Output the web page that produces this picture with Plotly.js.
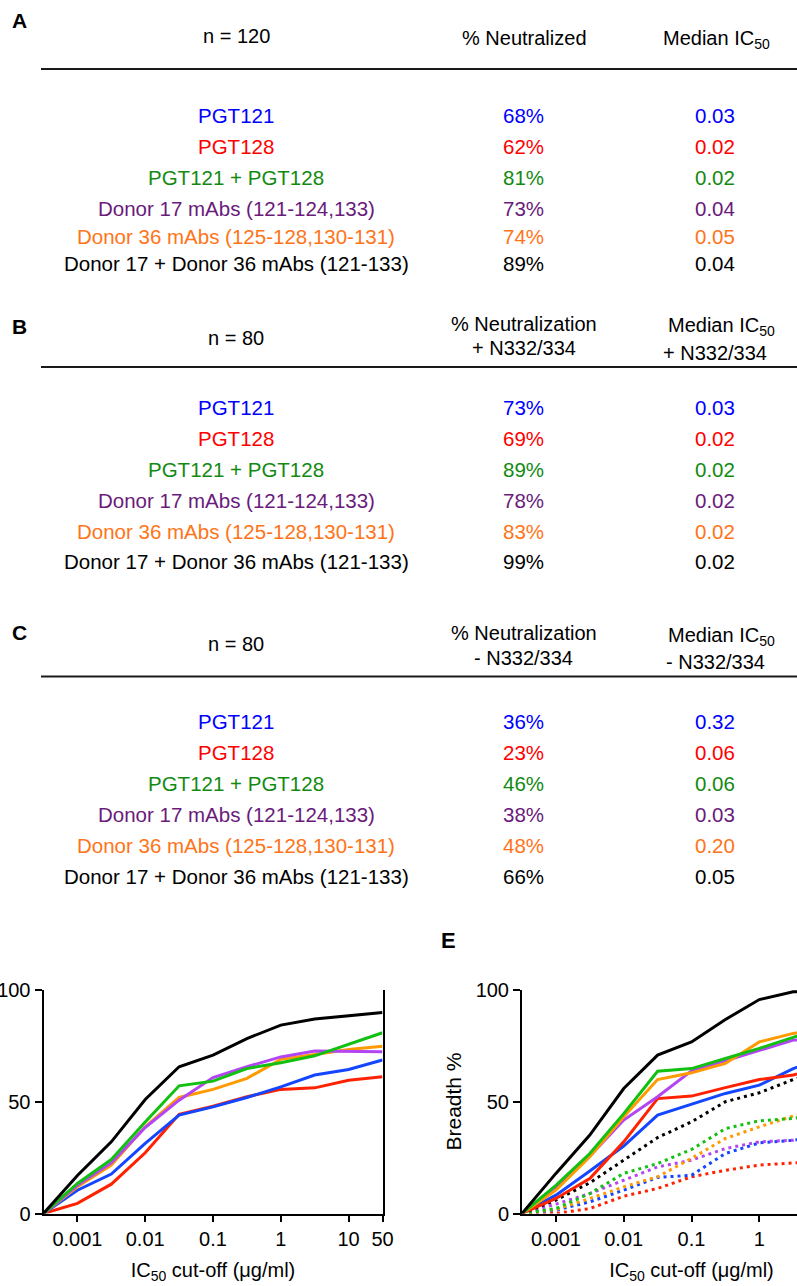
<!DOCTYPE html>
<html>
<head>
<meta charset="utf-8">
<script src="https://cdn.plot.ly/plotly-3.0.1.min.js"></script>
<style>
  html, body { margin: 0; padding: 0; overflow: hidden; background: #fff; }
  #chart { width: 870px; height: 1286px; }
</style>
</head>
<body>
<div id="chart"></div>
<script>
// ---------------- DATA ----------------
// Table rows (shared by panels A, B, C)
const rowLabels = [
  "PGT121",
  "PGT128",
  "PGT121 + PGT128",
  "Donor 17 mAbs (121-124,133)",
  "Donor 36 mAbs (125-128,130-131)",
  "Donor 17 + Donor 36 mAbs (121-133)"
];
// Panel A: n = 120
const aNeutralized = ["68%", "62%", "81%", "73%", "74%", "89%"];
const aMedianIC50  = ["0.03", "0.02", "0.02", "0.04", "0.05", "0.04"];
// Panel B: n = 80, + N332/334
const bNeutralized = ["73%", "69%", "89%", "78%", "83%", "99%"];
const bMedianIC50  = ["0.03", "0.02", "0.02", "0.02", "0.02", "0.02"];
// Panel C: n = 80, - N332/334
const cNeutralized = ["36%", "23%", "46%", "38%", "48%", "66%"];
const cMedianIC50  = ["0.32", "0.06", "0.06", "0.03", "0.20", "0.05"];

// Breadth curves: IC50 cut-off (ug/ml)
const cutoffs = [0.000316, 0.001, 0.00316, 0.01, 0.0316, 0.1, 0.316, 1, 3.16, 10, 31.6];
const tickValues = [0.001, 0.01, 0.1, 1, 10, 31.6];
const tickLabels = ["0.001", "0.01", "0.1", "1", "10", "50"];

// Panel D (n = 120), breadth %
const dPGT121   = [0, 10.4, 17.6, 31.3, 43.9, 47.6, 51.8, 56.5, 61.8, 64.3, 68.5];
const dPGT128   = [0, 4.5, 13.1, 27.1, 44.3, 47.9, 52.1, 55.4, 56.1, 59.5, 61.0];
const dCombo    = [0, 13.4, 24.1, 40.9, 57.0, 59.1, 64.7, 67.3, 70.4, 75.6, 80.7];
const dDonor17  = [0, 12.6, 22.6, 38.4, 50.6, 60.7, 65.5, 69.9, 72.5, 72.2, 72.2];
const dDonor36  = [0, 11.9, 21.6, 38.7, 51.8, 55.4, 60.3, 68.8, 71.0, 73.2, 74.7];
const dDonorAll = [0, 17.0, 32.0, 50.9, 65.5, 70.7, 78.1, 84.1, 86.8, 88.2, 89.7];

// Panel E solid (+ N332/334)
const ePlusPGT121   = [0, 8.2, 19.0, 30.1, 43.9, 48.8, 53.6, 57.3, 64.7, 70.0, 73.0];
const ePlusPGT128   = [0, 6.7, 15.6, 32.0, 51.3, 52.4, 56.2, 59.8, 61.8, 66.0, 69.0];
const ePlusCombo    = [0, 12.6, 26.8, 44.6, 63.5, 64.7, 69.2, 73.7, 78.6, 84.0, 89.0];
const ePlusDonor17  = [0, 11.9, 25.6, 41.7, 52.1, 63.7, 68.2, 72.9, 77.4, 78.0, 78.0];
const ePlusDonor36  = [0, 10.4, 25.3, 43.2, 59.8, 62.8, 67.0, 76.6, 80.4, 83.0, 83.0];
const ePlusDonorAll = [0, 17.9, 35.0, 55.8, 70.7, 76.6, 86.6, 95.5, 99.0, 99.0, 99.0];
// Panel E dotted (- N332/334)
const eMinusPGT121   = [0, 1.5, 5.2, 10.4, 16.1, 17.1, 26.8, 31.5, 32.7, 35.0, 36.0];
const eMinusPGT128   = [0, 0, 2.2, 7.7, 11.2, 16.4, 19.3, 21.6, 22.6, 23.0, 23.0];
const eMinusCombo    = [0, 2.2, 8.9, 17.9, 22.3, 28.6, 37.9, 41.4, 42.4, 45.0, 46.0];
const eMinusDonor17  = [0, 4.2, 8.9, 14.9, 20.8, 23.8, 29.0, 32.0, 32.7, 36.0, 38.0];
const eMinusDonor36  = [0, 1.8, 6.7, 11.9, 16.4, 24.6, 33.5, 38.7, 43.5, 47.0, 48.0];
const eMinusDonorAll = [0, 6.0, 13.7, 23.8, 33.9, 40.9, 49.9, 53.9, 59.8, 64.0, 66.0];

// ---------------- STYLE / LAYOUT ----------------
const W = 870, H = 1286;
const px = x => x / W;
const py = y => 1 - y / H;
const FONT = "Liberation Sans, Arial, Helvetica, sans-serif";

const tableColors = ["#0000ff", "#ff0000", "#128a12", "#6a1b7b", "#ff7418", "#000000"];
const lineColors = {
  PGT121: "#1446ff", PGT128: "#ff2200", Combo: "#11c011",
  Donor17: "#b445f2", Donor36: "#ff9a00", DonorAll: "#000000"
};

const annotations = [];
function addText(text, x, y, opts) {
  opts = opts || {};
  annotations.push({
    text: text, x: px(x), y: py(y), xref: "paper", yref: "paper",
    xanchor: opts.xanchor || "center", yanchor: "middle", showarrow: false,
    font: { family: FONT, size: opts.size || 20, color: opts.color || "#000",
            weight: opts.bold ? "bold" : "normal" }
  });
}

const shapes = [];
function addRule(y) {
  shapes.push({ type: "line", xref: "paper", yref: "paper",
    x0: px(41), x1: 1, y0: py(y), y1: py(y),
    line: { color: "#1a1a1a", width: 2 } });
}

function addTable(rowsY, neut, ic50) {
  rowLabels.forEach((lab, i) => {
    addText(lab, 236, rowsY[i], { color: tableColors[i], size: 20.5 });
    addText(neut[i], 523, rowsY[i], { color: tableColors[i], size: 20.5 });
    addText(ic50[i], 715, rowsY[i], { color: tableColors[i], size: 20.5 });
  });
}

// Panel A
addText("A", 19, 20, { bold: true, size: 21 });
addText("n = 120", 236, 36);
addText("% Neutralized", 524, 38);
addText("Median IC<sub>50</sub>", 716, 39);
addRule(69);
addTable([116, 146.5, 177, 208, 237, 263], aNeutralized, aMedianIC50);

// Panel B
addText("B", 19, 326, { bold: true, size: 21 });
addText("n = 80", 236, 338);
addText("% Neutralization", 523.5, 324);
addText("+ N332/334", 523.5, 348);
addText("Median IC<sub>50</sub>", 721, 326);
addText("+ N332/334", 715, 352.5);
addRule(367);
addTable([408, 438.5, 469, 500, 531, 561.5], bNeutralized, bMedianIC50);

// Panel C
addText("C", 19, 632.5, { bold: true, size: 21 });
addText("n = 80", 236, 644);
addText("% Neutralization", 523.5, 633);
addText("- N332/334", 523.5, 658);
addText("Median IC<sub>50</sub>", 721, 636);
addText("- N332/334", 715, 662);
addRule(676.5);
addTable([721, 752, 783, 814, 845.5, 876.5], cNeutralized, cMedianIC50);

// Panel E letter
addText("E", 449, 940, { bold: true, size: 22 });

// ---------------- TRACES ----------------
function line(y, color, xa, ya, dash) {
  return {
    type: "scatter", mode: "lines", x: cutoffs, y: y,
    xaxis: xa, yaxis: ya, showlegend: false, hoverinfo: "skip",
    line: { color: color, width: 3, dash: dash || "solid", shape: "linear" }
  };
}

const traces = [
  // Panel D
  line(dPGT128,   lineColors.PGT128,   "x", "y"),
  line(dPGT121,   lineColors.PGT121,   "x", "y"),
  line(dDonor36,  lineColors.Donor36,  "x", "y"),
  line(dDonor17,  lineColors.Donor17,  "x", "y"),
  line(dCombo,    lineColors.Combo,    "x", "y"),
  line(dDonorAll, lineColors.DonorAll, "x", "y"),
  // Panel E dotted (- N332/334)
  line(eMinusPGT128,   lineColors.PGT128,   "x2", "y2", "3px,4px"),
  line(eMinusPGT121,   lineColors.PGT121,   "x2", "y2", "3px,4px"),
  line(eMinusDonor17,  lineColors.Donor17,  "x2", "y2", "3px,4px"),
  line(eMinusDonor36,  lineColors.Donor36,  "x2", "y2", "3px,4px"),
  line(eMinusCombo,    lineColors.Combo,    "x2", "y2", "3px,4px"),
  line(eMinusDonorAll, lineColors.DonorAll, "x2", "y2", "3px,4px"),
  // Panel E solid (+ N332/334)
  line(ePlusPGT121,   lineColors.PGT121,   "x2", "y2"),
  line(ePlusPGT128,   lineColors.PGT128,   "x2", "y2"),
  line(ePlusDonor17,  lineColors.Donor17,  "x2", "y2"),
  line(ePlusDonor36,  lineColors.Donor36,  "x2", "y2"),
  line(ePlusCombo,    lineColors.Combo,    "x2", "y2"),
  line(ePlusDonorAll, lineColors.DonorAll, "x2", "y2")
];

const tickFont = { family: FONT, size: 20, color: "#000" };
const xTitle = { text: "IC<sub>50</sub> cut-off (μg/ml)", font: { family: FONT, size: 20, color: "#000" }, standoff: 14 };

function xAxis(domain, anchor) {
  return {
    domain: domain, anchor: anchor, type: "log",
    range: [Math.log10(cutoffs[0]), Math.log10(cutoffs[cutoffs.length - 1])],
    tickmode: "array", tickvals: tickValues, ticktext: tickLabels,
    ticks: "outside", ticklen: 6, tickwidth: 2, tickcolor: "#000",
    showline: true, linewidth: 2, linecolor: "#000",
    showgrid: false, zeroline: false, tickfont: tickFont,
    title: xTitle, automargin: false
  };
}
function yAxis(domain, anchor, mirror, title) {
  const ax = {
    domain: domain, anchor: anchor, range: [0, 100],
    tickmode: "array", tickvals: [0, 50, 100],
    ticks: "outside", ticklen: 7, tickwidth: 2, tickcolor: "#000",
    showline: true, linewidth: 2, linecolor: "#000", mirror: mirror,
    showgrid: false, zeroline: false, tickfont: tickFont, automargin: false
  };
  if (title) ax.title = { text: title, font: { family: FONT, size: 21, color: "#000" }, standoff: 8 };
  return ax;
}

const yDom = [py(1213.5), py(989.5)];
const layout = {
  width: W, height: H,
  margin: { l: 0, r: 0, t: 0, b: 0 },
  paper_bgcolor: "#fff", plot_bgcolor: "rgba(0,0,0,0)",
  showlegend: false,
  font: { family: FONT, color: "#000" },
  xaxis: xAxis([px(43.5), px(382.5)], "y"),
  yaxis: yAxis(yDom, "x", true),
  xaxis2: xAxis([px(522), px(861)], "y2"),
  yaxis2: yAxis(yDom, "x2", false, "Breadth %"),
  annotations: annotations,
  shapes: shapes
};

Plotly.newPlot("chart", traces, layout, { staticPlot: true, displayModeBar: false });
</script>
</body>
</html>
